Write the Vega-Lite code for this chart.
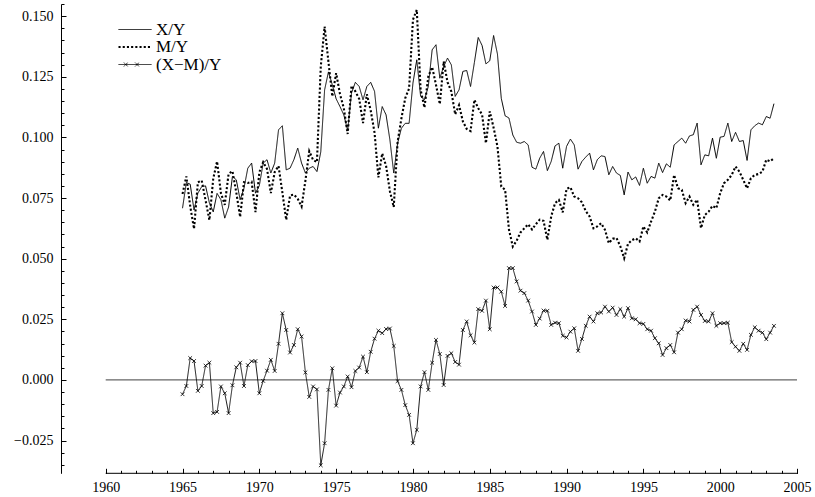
{
  "$schema": "https://vega.github.io/schema/vega-lite/v6.json",
  "width": 736,
  "height": 469.3,
  "autosize": {"type": "none"},
  "padding": {"left": 61, "top": 4, "right": 18, "bottom": 23.7},
  "background": "white",
  "config": {
    "view": {"stroke": null},
    "font": "Liberation Serif",
    "axis": {"grid": false, "labelFont": "Liberation Serif", "labelFontSize": 14, "labelColor": "black", "tickColor": "black", "domainColor": "black", "labelFlush": false, "labelOverlap": false, "title": null}
  },
  "data": {"values": [
    {"t":1965.00,"x":0.0708,"m":0.0767,"d":-0.0059},
    {"t":1965.25,"x":0.0814,"m":0.0839,"d":-0.0025},
    {"t":1965.50,"x":0.0807,"m":0.0717,"d":0.0090},
    {"t":1965.75,"x":0.0701,"m":0.0623,"d":0.0078},
    {"t":1966.00,"x":0.0770,"m":0.0815,"d":-0.0045},
    {"t":1966.25,"x":0.0797,"m":0.0822,"d":-0.0025},
    {"t":1966.50,"x":0.0800,"m":0.0741,"d":0.0059},
    {"t":1966.75,"x":0.0730,"m":0.0659,"d":0.0071},
    {"t":1967.00,"x":0.0693,"m":0.0830,"d":-0.0137},
    {"t":1967.25,"x":0.0769,"m":0.0901,"d":-0.0132},
    {"t":1967.50,"x":0.0743,"m":0.0770,"d":-0.0027},
    {"t":1967.75,"x":0.0667,"m":0.0722,"d":-0.0055},
    {"t":1968.00,"x":0.0713,"m":0.0850,"d":-0.0137},
    {"t":1968.25,"x":0.0839,"m":0.0861,"d":-0.0022},
    {"t":1968.50,"x":0.0825,"m":0.0773,"d":0.0052},
    {"t":1968.75,"x":0.0743,"m":0.0672,"d":0.0071},
    {"t":1969.00,"x":0.0790,"m":0.0815,"d":-0.0025},
    {"t":1969.25,"x":0.0873,"m":0.0812,"d":0.0061},
    {"t":1969.50,"x":0.0894,"m":0.0817,"d":0.0077},
    {"t":1969.75,"x":0.0770,"m":0.0692,"d":0.0078},
    {"t":1970.00,"x":0.0801,"m":0.0856,"d":-0.0055},
    {"t":1970.25,"x":0.0894,"m":0.0898,"d":-0.0004},
    {"t":1970.50,"x":0.0908,"m":0.0870,"d":0.0038},
    {"t":1970.75,"x":0.0853,"m":0.0770,"d":0.0083},
    {"t":1971.00,"x":0.0894,"m":0.0857,"d":0.0037},
    {"t":1971.25,"x":0.1031,"m":0.0882,"d":0.0149},
    {"t":1971.50,"x":0.1048,"m":0.0773,"d":0.0275},
    {"t":1971.75,"x":0.0866,"m":0.0660,"d":0.0206},
    {"t":1972.00,"x":0.0873,"m":0.0760,"d":0.0113},
    {"t":1972.25,"x":0.0908,"m":0.0764,"d":0.0144},
    {"t":1972.50,"x":0.0956,"m":0.0747,"d":0.0209},
    {"t":1972.75,"x":0.0894,"m":0.0715,"d":0.0179},
    {"t":1973.00,"x":0.0853,"m":0.0822,"d":0.0031},
    {"t":1973.25,"x":0.0873,"m":0.0943,"d":-0.0070},
    {"t":1973.50,"x":0.0880,"m":0.0907,"d":-0.0027},
    {"t":1973.75,"x":0.0859,"m":0.0898,"d":-0.0039},
    {"t":1974.00,"x":0.0940,"m":0.1292,"d":-0.0352},
    {"t":1974.25,"x":0.1196,"m":0.1457,"d":-0.0261},
    {"t":1974.50,"x":0.1270,"m":0.1311,"d":-0.0041},
    {"t":1974.75,"x":0.1217,"m":0.1169,"d":0.0048},
    {"t":1975.00,"x":0.1159,"m":0.1265,"d":-0.0106},
    {"t":1975.25,"x":0.1127,"m":0.1179,"d":-0.0052},
    {"t":1975.50,"x":0.1093,"m":0.1120,"d":-0.0027},
    {"t":1975.75,"x":0.1028,"m":0.1014,"d":0.0014},
    {"t":1976.00,"x":0.1183,"m":0.1213,"d":-0.0030},
    {"t":1976.25,"x":0.1227,"m":0.1190,"d":0.0037},
    {"t":1976.50,"x":0.1210,"m":0.1159,"d":0.0051},
    {"t":1976.75,"x":0.1155,"m":0.1059,"d":0.0096},
    {"t":1977.00,"x":0.1210,"m":0.1178,"d":0.0032},
    {"t":1977.25,"x":0.1227,"m":0.1111,"d":0.0116},
    {"t":1977.50,"x":0.1190,"m":0.1020,"d":0.0170},
    {"t":1977.75,"x":0.1038,"m":0.0835,"d":0.0203},
    {"t":1978.00,"x":0.1127,"m":0.0934,"d":0.0193},
    {"t":1978.25,"x":0.1093,"m":0.0883,"d":0.0210},
    {"t":1978.50,"x":0.0990,"m":0.0778,"d":0.0212},
    {"t":1978.75,"x":0.0853,"m":0.0713,"d":0.0140},
    {"t":1979.00,"x":0.0976,"m":0.0981,"d":-0.0005},
    {"t":1979.25,"x":0.1038,"m":0.1079,"d":-0.0041},
    {"t":1979.50,"x":0.1058,"m":0.1162,"d":-0.0104},
    {"t":1979.75,"x":0.1058,"m":0.1202,"d":-0.0144},
    {"t":1980.00,"x":0.1224,"m":0.1485,"d":-0.0261},
    {"t":1980.25,"x":0.1320,"m":0.1526,"d":-0.0206},
    {"t":1980.50,"x":0.1169,"m":0.1196,"d":-0.0027},
    {"t":1980.75,"x":0.1155,"m":0.1123,"d":0.0032},
    {"t":1981.00,"x":0.1210,"m":0.1251,"d":-0.0041},
    {"t":1981.25,"x":0.1361,"m":0.1290,"d":0.0071},
    {"t":1981.50,"x":0.1382,"m":0.1217,"d":0.0165},
    {"t":1981.75,"x":0.1244,"m":0.1137,"d":0.0107},
    {"t":1982.00,"x":0.1292,"m":0.1313,"d":-0.0021},
    {"t":1982.25,"x":0.1327,"m":0.1228,"d":0.0099},
    {"t":1982.50,"x":0.1299,"m":0.1189,"d":0.0110},
    {"t":1982.75,"x":0.1169,"m":0.1095,"d":0.0074},
    {"t":1983.00,"x":0.1196,"m":0.1133,"d":0.0063},
    {"t":1983.25,"x":0.1272,"m":0.1066,"d":0.0206},
    {"t":1983.50,"x":0.1276,"m":0.1035,"d":0.0241},
    {"t":1983.75,"x":0.1210,"m":0.1026,"d":0.0184},
    {"t":1984.00,"x":0.1309,"m":0.1155,"d":0.0154},
    {"t":1984.25,"x":0.1412,"m":0.1120,"d":0.0292},
    {"t":1984.50,"x":0.1379,"m":0.1094,"d":0.0285},
    {"t":1984.75,"x":0.1303,"m":0.0976,"d":0.0327},
    {"t":1985.00,"x":0.1316,"m":0.1107,"d":0.0209},
    {"t":1985.25,"x":0.1420,"m":0.1040,"d":0.0381},
    {"t":1985.50,"x":0.1344,"m":0.0963,"d":0.0381},
    {"t":1985.75,"x":0.1161,"m":0.0797,"d":0.0364},
    {"t":1986.00,"x":0.1089,"m":0.0784,"d":0.0305},
    {"t":1986.25,"x":0.1080,"m":0.0620,"d":0.0461},
    {"t":1986.50,"x":0.1010,"m":0.0550,"d":0.0461},
    {"t":1986.75,"x":0.0980,"m":0.0574,"d":0.0406},
    {"t":1987.00,"x":0.0976,"m":0.0608,"d":0.0368},
    {"t":1987.25,"x":0.0983,"m":0.0625,"d":0.0358},
    {"t":1987.50,"x":0.0969,"m":0.0642,"d":0.0327},
    {"t":1987.75,"x":0.0877,"m":0.0620,"d":0.0282},
    {"t":1988.00,"x":0.0869,"m":0.0642,"d":0.0227},
    {"t":1988.25,"x":0.0914,"m":0.0661,"d":0.0253},
    {"t":1988.50,"x":0.0942,"m":0.0656,"d":0.0286},
    {"t":1988.75,"x":0.0863,"m":0.0578,"d":0.0285},
    {"t":1989.00,"x":0.0901,"m":0.0674,"d":0.0227},
    {"t":1989.25,"x":0.0965,"m":0.0729,"d":0.0236},
    {"t":1989.50,"x":0.0976,"m":0.0742,"d":0.0234},
    {"t":1989.75,"x":0.0873,"m":0.0691,"d":0.0182},
    {"t":1990.00,"x":0.0963,"m":0.0788,"d":0.0175},
    {"t":1990.25,"x":0.0993,"m":0.0794,"d":0.0199},
    {"t":1990.50,"x":0.0969,"m":0.0756,"d":0.0213},
    {"t":1990.75,"x":0.0869,"m":0.0749,"d":0.0120},
    {"t":1991.00,"x":0.0901,"m":0.0732,"d":0.0169},
    {"t":1991.25,"x":0.0919,"m":0.0696,"d":0.0223},
    {"t":1991.50,"x":0.0935,"m":0.0674,"d":0.0261},
    {"t":1991.75,"x":0.0866,"m":0.0625,"d":0.0241},
    {"t":1992.00,"x":0.0908,"m":0.0633,"d":0.0275},
    {"t":1992.25,"x":0.0924,"m":0.0646,"d":0.0278},
    {"t":1992.50,"x":0.0921,"m":0.0619,"d":0.0302},
    {"t":1992.75,"x":0.0846,"m":0.0564,"d":0.0282},
    {"t":1993.00,"x":0.0880,"m":0.0582,"d":0.0298},
    {"t":1993.25,"x":0.0853,"m":0.0585,"d":0.0268},
    {"t":1993.50,"x":0.0843,"m":0.0551,"d":0.0292},
    {"t":1993.75,"x":0.0763,"m":0.0502,"d":0.0261},
    {"t":1994.00,"x":0.0857,"m":0.0561,"d":0.0296},
    {"t":1994.25,"x":0.0825,"m":0.0576,"d":0.0254},
    {"t":1994.50,"x":0.0837,"m":0.0584,"d":0.0250},
    {"t":1994.75,"x":0.0802,"m":0.0571,"d":0.0234},
    {"t":1995.00,"x":0.0873,"m":0.0633,"d":0.0231},
    {"t":1995.25,"x":0.0811,"m":0.0608,"d":0.0209},
    {"t":1995.50,"x":0.0839,"m":0.0653,"d":0.0203},
    {"t":1995.75,"x":0.0832,"m":0.0694,"d":0.0172},
    {"t":1996.00,"x":0.0894,"m":0.0749,"d":0.0151},
    {"t":1996.25,"x":0.0855,"m":0.0763,"d":0.0103},
    {"t":1996.50,"x":0.0891,"m":0.0756,"d":0.0131},
    {"t":1996.75,"x":0.0877,"m":0.0740,"d":0.0144},
    {"t":1997.00,"x":0.0969,"m":0.0845,"d":0.0114},
    {"t":1997.25,"x":0.0983,"m":0.0790,"d":0.0195},
    {"t":1997.50,"x":0.0997,"m":0.0784,"d":0.0209},
    {"t":1997.75,"x":0.0976,"m":0.0729,"d":0.0245},
    {"t":1998.00,"x":0.1006,"m":0.0756,"d":0.0241},
    {"t":1998.25,"x":0.1011,"m":0.0722,"d":0.0289},
    {"t":1998.50,"x":0.1059,"m":0.0743,"d":0.0302},
    {"t":1998.75,"x":0.0887,"m":0.0626,"d":0.0268},
    {"t":1999.00,"x":0.0928,"m":0.0680,"d":0.0243},
    {"t":1999.25,"x":0.0924,"m":0.0694,"d":0.0241},
    {"t":1999.50,"x":0.0997,"m":0.0718,"d":0.0275},
    {"t":1999.75,"x":0.0914,"m":0.0708,"d":0.0223},
    {"t":2000.00,"x":0.1001,"m":0.0770,"d":0.0234},
    {"t":2000.25,"x":0.1004,"m":0.0811,"d":0.0234},
    {"t":2000.50,"x":0.1059,"m":0.0825,"d":0.0236},
    {"t":2000.75,"x":0.0983,"m":0.0845,"d":0.0156},
    {"t":2001.00,"x":0.1021,"m":0.0880,"d":0.0137},
    {"t":2001.25,"x":0.0983,"m":0.0859,"d":0.0120},
    {"t":2001.50,"x":0.0987,"m":0.0825,"d":0.0149},
    {"t":2001.75,"x":0.0905,"m":0.0790,"d":0.0124},
    {"t":2002.00,"x":0.1031,"m":0.0832,"d":0.0186},
    {"t":2002.25,"x":0.1048,"m":0.0845,"d":0.0217},
    {"t":2002.50,"x":0.1059,"m":0.0849,"d":0.0203},
    {"t":2002.75,"x":0.1052,"m":0.0859,"d":0.0195},
    {"t":2003.00,"x":0.1086,"m":0.0908,"d":0.0168},
    {"t":2003.25,"x":0.1079,"m":0.0901,"d":0.0195},
    {"t":2003.50,"x":0.1139,"m":0.0914,"d":0.0223}
  ]},
  "layer": [
    {
      "data": {"values": [{}]},
      "mark": {"type": "rule", "color": "#666666", "strokeWidth": 1.2},
      "encoding": {
        "x": {"datum": 1960, "type": "quantitative", "scale": {"domain": [1957.09, 2005], "nice": false, "zero": false},
              "axis": {"orient": "bottom", "values": [1960,1965,1970,1975,1980,1985,1990,1995,2000,2005], "format": "d", "domain": false, "tickSize": -5, "labelPadding": 12}},
        "x2": {"datum": 2005},
        "y": {"datum": 0, "type": "quantitative", "scale": {"domain": [-0.0385, 0.155], "nice": false, "zero": false},
              "axis": {"orient": "left", "values": [-0.025,0,0.025,0.05,0.075,0.1,0.125,0.15], "format": ".3f", "domain": true, "tickSize": -5, "labelPadding": 13}}
      }
    },
    {
      "data": {"values": [{}]},
      "mark": {"type": "rule", "color": "black", "strokeWidth": 1},
      "encoding": {
        "x": {"datum": 1960, "type": "quantitative",
              "axis": {"orient": "bottom", "values": [1960,1961,1962,1963,1964,1965,1966,1967,1968,1969,1970,1971,1972,1973,1974,1975,1976,1977,1978,1979,1980,1981,1982,1983,1984,1985,1986,1987,1988,1989,1990,1991,1992,1993,1994,1995,1996,1997,1998,1999,2000,2001,2002,2003,2004,2005], "labels": false, "domain": false, "tickSize": -3}},
        "x2": {"datum": 2005},
        "y": {"datum": -0.0385, "type": "quantitative",
              "axis": {"orient": "left", "values": [-0.035,-0.03,-0.025,-0.02,-0.015,-0.01,-0.005,0,0.005,0.01,0.015,0.02,0.025,0.03,0.035,0.04,0.045,0.05,0.055,0.06,0.065,0.07,0.075,0.08,0.085,0.09,0.095,0.1,0.105,0.11,0.115,0.12,0.125,0.13,0.135,0.14,0.145,0.15,0.155], "labels": false, "domain": false, "tickSize": -3}}
      }
    },
    {
      "transform": [{"fold": ["x", "m", "d"], "as": ["key", "value"]}],
      "mark": {"type": "line", "color": "black", "strokeCap": "butt"},
      "encoding": {
        "x": {"field": "t", "type": "quantitative", "axis": null},
        "y": {"field": "value", "type": "quantitative", "axis": null},
        "detail": {"field": "key"},
        "strokeDash": {"field": "key", "type": "nominal",
          "scale": {"domain": ["x", "m", "d"], "range": [[1, 0], [2.1, 2.1], [1, 0]]},
          "legend": {"title": null, "orient": "none", "legendX": 65, "legendY": 17, "padding": 0, "rowPadding": 0,
            "symbolType": "stroke", "symbolSize": 225, "symbolStrokeColor": "black", "symbolStrokeWidth": 1,
            "labelFont": "Liberation Serif", "labelFontSize": 17, "labelColor": "black", "labelOffset": 12,
            "labelExpr": "datum.value === 'x' ? 'X/Y' : datum.value === 'm' ? 'M/Y' : '(X−M)/Y'",
            "encode": {"symbols": {"update": {
              "shape": {"signal": "datum.value === 'd' ? 'M-2.2,0L0.2,0M-1.48,-0.25L-0.98,0.25M-1.48,0.25L-0.98,-0.25M0.02,-0.25L0.52,0.25M0.02,0.25L0.52,-0.25M0.2,0L2.2,0' : 'M-2.2,0L2.2,0'"},
              "strokeWidth": {"signal": "datum.value === 'm' ? 2 : 1"}
            }}}}},
        "strokeWidth": {"field": "key", "type": "nominal", "scale": {"type": "ordinal", "domain": ["x", "m", "d"], "range": [1, 2.1, 0.9]}, "legend": null}
      }
    },
    {
      "mark": {"type": "point", "shape": "M-1,-1L1,1M-1,1L1,-1", "filled": false, "stroke": "black", "strokeWidth": 0.8, "size": 14, "opacity": 1},
      "encoding": {
        "x": {"field": "t", "type": "quantitative", "axis": null},
        "y": {"field": "d", "type": "quantitative", "axis": null}
      }
    }
  ],
  "resolve": {"axis": {"x": "independent", "y": "independent"}}
}
